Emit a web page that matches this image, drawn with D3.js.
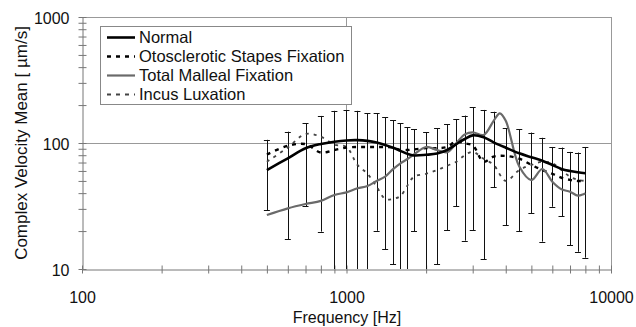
<!DOCTYPE html>
<html>
<head>
<meta charset="utf-8">
<title>Complex velocity mean</title>
<script src="https://d3js.org/d3.v7.min.js"></script>
<style>
	body { margin: 0; background: #fff; }
	text { font-family: "Liberation Sans", Arial, sans-serif; fill: #111; }
	.axis path { stroke: #777; }
	.axis line { stroke: #777; }
	.grid { stroke: #999; stroke-width: 1; }
	.errbar { stroke: #111; stroke-width: 1; }
</style>
</head>
<body>
<svg id="chart" width="636" height="327"></svg>
<script>
// frequencies of the measurement points (Hz)
var freqs = [500, 600, 700, 800, 900, 1000, 1100, 1200, 1300, 1400, 1500, 1600, 1700, 1800,
	2000, 2200, 2400, 2600, 2800, 3000, 3300, 3600, 4000, 4500, 5000, 5500, 6000, 6500, 7000, 7500, 8000];

// error bar ends (um/s); values under 10 run off the bottom of the axis
var errHigh = [106, 123, 143, 164, 180, 182, 180, 172, 172, 160, 152, 143, 133, 128,
	122, 131, 141, 155, 165, 192, 183, 177, 131, 129, 121, 110, 93, 92, 85, 84, 93];
var errLow = [29.4, 17.2, 31.6, 19.8, 5, 5, 5, 5, 20.1, 14.4, 10.9, 5, 5, 20,
	5, 10.9, 20.4, 31.6, 16.8, 20.4, 12, 44.5, 22.3, 20, 27.7, 16.5, 31.2, 26.3, 15.5, 13.7, 12.3];

var normal = [61, 75.6, 90.8, 98.2, 102.4, 104.8, 105.3, 104, 101, 96.6, 91.8, 86.6, 82, 79.6,
	80.6, 82.5, 88, 98, 107.6, 115, 111, 101.2, 91.8, 82.8, 77, 72.4, 66.9, 62.2, 59.9, 58.5, 57.5];

var otosclerotic = [81, 95, 98, 84, 88, 92, 93, 93, 93, 93, 92, 88, 88, 89,
	91, 91, 93, 103, 99, 96, 71, 78, 79, 75, 67, 61, 57, 53, 51, 50, 50];

var incus = [71, 92, 118, 112, 97, 93, 67, 57, 45, 36, 36, 38, 46, 54,
	57, 61, 66, 71, 80, 85, 75, 67, 50, 61, 67, 71, 69, 61, 54, 51, 50];

var mallealFreqs = [500, 600, 700, 800, 900, 1000, 1100, 1200, 1300, 1400, 1500, 1600, 1700, 1800,
	2000, 2200, 2400, 2600, 2800, 3000, 3300, 3600, 3800, 4000, 4500, 5000, 5500, 6000, 6500, 7000, 7500, 8000];
var malleal = [26.8, 30.3, 32.8, 34.7, 38.7, 40.6, 43.7, 45.6, 49.9, 54, 62, 69, 74.6, 81.3,
	93, 88, 84.5, 99.5, 117, 121.6, 115.8, 150, 172, 150, 65, 50.8, 62.2, 49.3, 42.9, 41.1, 38.2, 39.9];

var xTickLabels = [100, 1000, 10000];
var yTickLabels = [10, 100, 1000];

var seriesNames = ["Normal", "Otosclerotic Stapes Fixation", "Total Malleal Fixation", "Incus Luxation"];

var svg = d3.select("#chart");

var x = d3.scaleLog().domain([100, 10000]).range([82, 611]);
var y = d3.scaleLog().domain([10, 1000]).range([269, 17]);

svg.append("defs").append("clipPath").attr("id", "plotclip")
	.append("rect")
	.attr("x", x.range()[0]).attr("y", y.range()[1])
	.attr("width", x.range()[1] - x.range()[0])
	.attr("height", y.range()[0] - y.range()[1]);

// grid lines at the decades
svg.append("g").selectAll("line")
	.data(yTickLabels.slice(1))
	.join("line")
	.attr("class", "grid")
	.attr("x1", x.range()[0]).attr("x2", x.range()[1])
	.attr("y1", function(d) { return Math.round(y(d)) + 0.5; })
	.attr("y2", function(d) { return Math.round(y(d)) + 0.5; });

svg.append("g").selectAll("line")
	.data(xTickLabels.slice(1))
	.join("line")
	.attr("class", "grid")
	.attr("y1", y.range()[0]).attr("y2", y.range()[1])
	.attr("x1", function(d) { return Math.round(x(d)) + 0.5; })
	.attr("x2", function(d) { return Math.round(x(d)) + 0.5; });

// axes
var xAxis = d3.axisBottom(x)
	.tickValues(x.ticks())
	.tickSize(0)
	.tickPadding(22)
	.tickFormat(function(d) { return xTickLabels.indexOf(d) >= 0 ? d : ""; });

var gx = svg.append("g").attr("class", "axis")
	.attr("transform", "translate(0," + (y.range()[0] + 0.5) + ")")
	.call(xAxis);
gx.selectAll(".tick line").attr("y1", -4).attr("y2", 4);
gx.selectAll("text").style("font-size", "16px");

var yAxis = d3.axisLeft(y)
	.tickValues(y.ticks())
	.tickSize(0)
	.tickPadding(13)
	.tickFormat(function(d) { return yTickLabels.indexOf(d) >= 0 ? d : ""; });

var gy = svg.append("g").attr("class", "axis")
	.attr("transform", "translate(" + (x.range()[0] + 0.5) + ",0)")
	.call(yAxis);
gy.selectAll(".tick line").attr("x1", -4).attr("x2", 4);
gy.selectAll("text").style("font-size", "16px").attr("dy", "0.42em");
gx.select(".domain").attr("stroke", "#777");
gy.select(".domain").attr("stroke", "#777");

// axis titles
svg.append("text")
	.attr("x", 347).attr("y", 323)
	.attr("text-anchor", "middle")
	.style("font-size", "16px")
	.text("Frequency [Hz]");

svg.append("text")
	.attr("transform", "translate(27," + y(100) + ") rotate(-90)")
	.attr("text-anchor", "middle")
	.style("font-size", "17px")
	.text("Complex Velocity Mean [ \u00b5m/s]");

// error bars
var plot = svg.append("g").attr("clip-path", "url(#plotclip)");
var bars = plot.append("g").selectAll("g")
	.data(freqs.map(function(f, i) { return { f: f, hi: errHigh[i], lo: errLow[i] }; }))
	.join("g");

bars.append("line").attr("class", "errbar")
	.attr("x1", function(d) { return Math.round(x(d.f)) + 0.5; })
	.attr("x2", function(d) { return Math.round(x(d.f)) + 0.5; })
	.attr("y1", function(d) { return y(d.hi); })
	.attr("y2", function(d) { return y(d.lo); });
bars.append("line").attr("class", "errbar")
	.attr("x1", function(d) { return x(d.f) - 3; })
	.attr("x2", function(d) { return x(d.f) + 3; })
	.attr("y1", function(d) { return Math.round(y(d.hi)) + 0.5; })
	.attr("y2", function(d) { return Math.round(y(d.hi)) + 0.5; });
bars.filter(function(d) { return d.lo >= 10; })
	.append("line").attr("class", "errbar")
	.attr("x1", function(d) { return x(d.f) - 3; })
	.attr("x2", function(d) { return x(d.f) + 3; })
	.attr("y1", function(d) { return Math.round(y(d.lo)) + 0.5; })
	.attr("y2", function(d) { return Math.round(y(d.lo)) + 0.5; });

// curves
var line = d3.line()
	.x(function(d) { return x(d[0]); })
	.y(function(d) { return y(d[1]); })
	.curve(d3.curveCatmullRom.alpha(0.5));

var styles = [
	{ color: "#000", width: 2.6, dash: null },
	{ color: "#000", width: 2.4, dash: "4,5" },
	{ color: "#6a6a6a", width: 2.2, dash: null },
	{ color: "#444", width: 1.8, dash: "3,5" }
];

var seriesData = [
	d3.zip(freqs, normal),
	d3.zip(freqs, otosclerotic),
	d3.zip(mallealFreqs, malleal),
	d3.zip(freqs, incus)
];

// draw dashed first, then the solid ones on top
[3, 1, 2, 0].forEach(function(i) {
	plot.append("path")
		.attr("d", line(seriesData[i]))
		.attr("fill", "none")
		.attr("stroke", styles[i].color)
		.attr("stroke-width", styles[i].width)
		.attr("stroke-dasharray", styles[i].dash);
});

// legend
var legend = svg.append("g");
legend.append("rect")
	.attr("x", 100.5).attr("y", 26.5)
	.attr("width", 251).attr("height", 78)
	.attr("fill", "#fff").attr("stroke", "#888");

var rows = legend.selectAll("g.row")
	.data(seriesNames)
	.join("g").attr("class", "row")
	.attr("transform", function(d, i) { return "translate(0," + (37.5 + i * 19) + ")"; });

rows.append("line")
	.attr("x1", 107).attr("x2", 135)
	.attr("stroke", function(d, i) { return styles[i].color; })
	.attr("stroke-width", function(d, i) { return styles[i].width; })
	.attr("stroke-dasharray", function(d, i) { return styles[i].dash ? "4,5" : null; });

rows.append("text")
	.attr("x", 139).attr("dy", "0.36em")
	.style("font-size", "16.5px")
	.text(function(d) { return d; });
</script>
</body>
</html>
